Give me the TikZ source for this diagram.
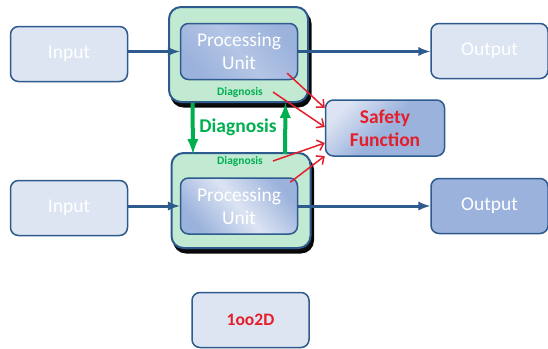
\documentclass[tikz,border=0pt]{standalone}
\usepackage{fontspec}
\setmainfont{Carlito}
\usetikzlibrary{arrows,arrows.meta,shapes,shadows,positioning}
\definecolor{boxline}{HTML}{2D5B8D}
\definecolor{iofill}{HTML}{DDE5F2}
\definecolor{pufill}{HTML}{9BB2DC}
\definecolor{chanfill}{HTML}{C2EAD2}
\definecolor{diaggreen}{HTML}{00B050}
\definecolor{votered}{HTML}{E41E2B}
\tikzstyle{io}=[draw=boxline,line width=1.5pt,rounded corners=8pt,fill=iofill,text=white,
                minimum width=117pt,minimum height=55pt,font=\fontsize{19.5}{22}\selectfont]
\tikzstyle{pu}=[draw=boxline,line width=1.5pt,rounded corners=8pt,left color=pufill,right color=pufill,
                middle color=pufill!75!white,shading angle=130,text=white,align=center,
                minimum width=117pt,minimum height=56pt,font=\fontsize{19.5}{23}\selectfont]
\tikzstyle{chan}=[draw=boxline,line width=2pt,rounded corners=12pt,fill=chanfill,
                minimum width=139pt,minimum height=95pt,
                drop shadow={shadow xshift=2.5pt,shadow yshift=-4.5pt,fill=black,draw=black,opacity=0.95}]
\tikzstyle{diaglabel}=[text=diaggreen,font=\bfseries\fontsize{11.5}{13}\selectfont,inner sep=1pt]
\tikzstyle{flow}=[->,>=latex,draw=boxline,line width=3pt]
\tikzstyle{diag}=[->,>=latex,draw=diaggreen,line width=4pt]
\tikzstyle{vote}=[-{Straight Barb[length=6pt,width=11pt,line width=1.5pt]},draw=votered,line width=1.5pt]

\begin{document}
\begin{tikzpicture}[x=1pt,y=-1pt]
        \useasboundingbox (0,0) rectangle (548,348);
        \node [chan] (ch1) at (238.5,54.5) {};
        \node [chan] (ch2) at (241,200.5) {};
        \node [pu] (pu1) at (239,51.5) {Processing\\Unit};
        \node [pu,middle color=pufill!35!white] (pu2) at (239,206) {Processing\\Unit};
        \node [io] (in1) at (69,54) {Input};
        \node [io] (in2) at (69,208) {Input};
        \node [io] (out1) at (489.5,51) {Output};
        \node [io,fill=pufill] (out2) at (489.5,206) {Output};
        \node [pu,left color=pufill!35!white,middle color=pufill,shading angle=45,minimum width=119pt,
               text=votered,font=\bfseries\fontsize{19.5}{23}\selectfont] (sf) at (385,128) {Safety\\Function};
        \node [io,text=votered,font=\bfseries\fontsize{17.5}{20}\selectfont] (arch) at (250.5,320) {1oo2D};
        \node [diaglabel] (dg1) at (240,92) {Diagnosis};
        \node [diaglabel] (dg2) at (240,161) {Diagnosis};
        \node [diaglabel,font=\bfseries\fontsize{19.5}{22}\selectfont] (dgm) at (238,127) {Diagnosis};
        \draw[flow] (in1.east |- pu1.west) -- (pu1.west);
        \draw[flow] (in2.east |- pu2.west) -- (pu2.west);
        \draw[flow] (pu1.east) -- (out1.west |- pu1.east);
        \draw[flow] (pu2.east) -- (out2.west |- pu2.east);
        \draw[diag] ([shift={(-46,0)}]ch1.south) -- ([shift={(-48,2)}]ch2.north);
        \draw[diag] ([shift={(44,2)}]ch2.north) -- ([shift={(47,0)}]ch1.south);
        \draw[vote] ([shift={(-11,-7)}]pu1.south east) -- ([shift={(0,-20)}]sf.west);
        \draw[vote] ([shift={(9,0)}]dg1.east) -- ([shift={(0,-1)}]sf.west);
        \draw[vote] ([shift={(9,0)}]dg2.east) -- ([shift={(0,15)}]sf.west);
        \draw[vote] ([shift={(-8,5)}]pu2.north east) -- ([shift={(0,28)}]sf.west);
    \end{tikzpicture}
\end{document}
